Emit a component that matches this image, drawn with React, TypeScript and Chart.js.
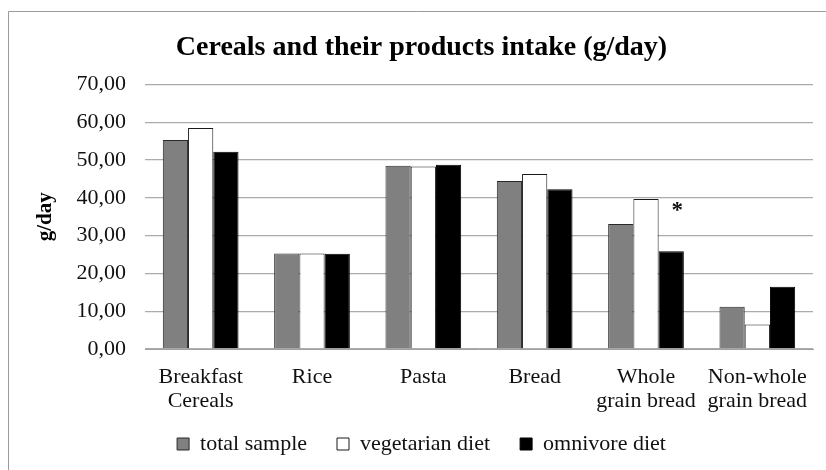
import React, { useEffect, useRef } from "react";
import { Chart, registerables } from "chart.js";

Chart.register(...registerables);

const categories: (string | string[])[] = [
  ["Breakfast", "Cereals"],
  "Rice",
  "Pasta",
  "Bread",
  ["Whole", "grain bread"],
  ["Non-whole", "grain bread"],
];
const seriesNames = ["total sample", "vegetarian diet", "omnivore diet"];
const totalSample = [55.3, 25.3, 48.5, 44.5, 33.1, 11.2];
const vegetarianDiet = [58.5, 25.3, 48.3, 46.3, 39.7, 6.5];
const omnivoreDiet = [52.2, 25.2, 48.8, 42.3, 25.9, 16.5];
const yTickLabels = ["0,00", "10,00", "20,00", "30,00", "40,00", "50,00", "60,00", "70,00"];
const significanceIndex = 4;
const significanceValue = 37.6;
const significanceMark = "*";

const SERIF = "'Liberation Serif', 'Times New Roman', serif";

export default function App() {
  const ref = useRef<HTMLCanvasElement | null>(null);

  useEffect(() => {
    document.body.style.margin = "0";
    const canvas = ref.current;
    if (!canvas) return;

    const framePlugin = {
      id: "frame",
      beforeDraw(chart: any) {
        const ctx = chart.ctx;
        ctx.save();
        ctx.fillStyle = "#ffffff";
        ctx.fillRect(0, 0, chart.width, chart.height);
        ctx.strokeStyle = "#9a9a9a";
        ctx.lineWidth = 1;
        ctx.beginPath();
        ctx.moveTo(8.5, chart.height);
        ctx.lineTo(8.5, 11.5);
        ctx.lineTo(chart.width, 11.5);
        ctx.stroke();
        ctx.restore();
      },
    };

    const starPlugin = {
      id: "star",
      afterDatasetsDraw(chart: any) {
        const meta = chart.getDatasetMeta(2);
        const bar = meta.data[significanceIndex];
        if (!bar) return;
        const y = chart.scales.y.getPixelForValue(significanceValue);
        const ctx = chart.ctx;
        ctx.save();
        ctx.fillStyle = "#111";
        ctx.font = `bold 23px ${SERIF}`;
        ctx.textAlign = "center";
        ctx.textBaseline = "middle";
        ctx.fillText(significanceMark, bar.x + 6, y + 4);
        ctx.restore();
      },
    };

    const chart = new Chart(canvas, {
      type: "bar",
      data: {
        labels: categories,
        datasets: [
          {
            label: seriesNames[0],
            data: totalSample,
            backgroundColor: "#808080",
            borderColor: "#2a2a2a",
            borderWidth: 1,
          },
          {
            label: seriesNames[1],
            data: vegetarianDiet,
            backgroundColor: "#ffffff",
            borderColor: "#1a1a1a",
            borderWidth: 1,
          },
          {
            label: seriesNames[2],
            data: omnivoreDiet,
            backgroundColor: "#000000",
            borderColor: "#000000",
            borderWidth: 1,
          },
        ],
      },
      options: {
        responsive: false,
        animation: false,
        layout: { padding: { left: 30, right: 13, top: 0, bottom: 5 } },
        datasets: {
          bar: { categoryPercentage: 0.68, barPercentage: 1.0 },
        },
        plugins: {
          title: {
            display: true,
            text: "Cereals and their products intake (g/day)",
            color: "#000",
            font: { family: SERIF, size: 28, weight: "bold", lineHeight: 1.2 },
            padding: { top: 31, bottom: 20 },
          },
          legend: {
            position: "bottom",
            labels: {
              color: "#111",
              font: { family: SERIF, size: 22 },
              boxWidth: 12,
              boxHeight: 12,
              padding: 30,
            },
          },
          tooltip: { enabled: false },
        },
        scales: {
          x: {
            grid: { display: false, drawTicks: false },
            border: { display: true, color: "#a0a0a0" },
            ticks: {
              color: "#111",
              font: { family: SERIF, size: 22, lineHeight: 1.1 },
              padding: 16,
              maxRotation: 0,
              autoSkip: false,
            },
            afterFit(scale: any) {
              scale.height = 54;
              scale._computeLabelArea = () => undefined;
            },
          },
          y: {
            min: 0,
            max: 70,
            grid: { color: "#ababab", lineWidth: 1.3, drawTicks: false },
            border: { display: false },
            ticks: {
              stepSize: 10,
              color: "#111",
              font: { family: SERIF, size: 22 },
              padding: 19,
              callback: (_v: any, i: number) => yTickLabels[i],
            },
            title: {
              display: true,
              text: "g/day",
              color: "#000",
              font: { family: SERIF, size: 21, weight: "bold", lineHeight: 1.2 },
              padding: { top: 3, bottom: 0 },
            },
            afterFit(scale: any) {
              scale.width = 115;
            },
          },
        },
      },
      plugins: [framePlugin, starPlugin],
    });

    return () => chart.destroy();
  }, []);

  return (
    <div style={{ position: "absolute", left: 0, top: 0, width: 826, height: 470 }}>
      <canvas ref={ref} width={826} height={470} />
    </div>
  );
}
